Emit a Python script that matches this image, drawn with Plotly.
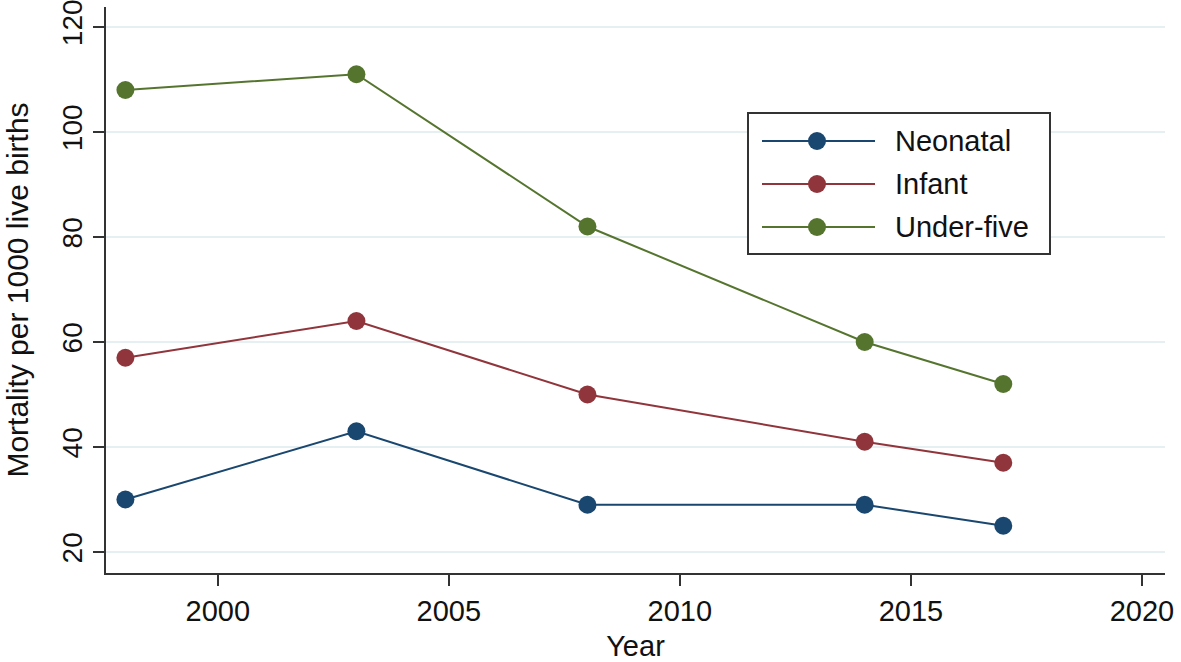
import plotly.graph_objects as go

years = [1998, 2003, 2008, 2014, 2017]
neonatal = [30, 43, 29, 29, 25]
infant = [57, 64, 50, 41, 37]
under_five = [108, 111, 82, 60, 52]

series_names = ["Neonatal", "Infant", "Under-five"]
series_values = [neonatal, infant, under_five]
series_colors = ["#1a476f", "#90353b", "#55752f"]

x_ticks = [2000, 2005, 2010, 2015, 2020]
y_ticks = [20, 40, 60, 80, 100, 120]

W, H = 1181, 662
L, R, T, B = 106, 16, 7, 89
pw, ph = W - L - R, H - T - B

def px(x):
    return (x - L) / pw

def py(y):
    return (H - B - y) / ph

FONT = "Liberation Sans, Arial, sans-serif"
FS = 29

fig = go.Figure()
for name, vals, col in zip(series_names, series_values, series_colors):
    fig.add_trace(go.Scatter(
        x=years, y=vals, mode="lines+markers", name=name,
        line=dict(color=col, width=2),
        marker=dict(color=col, size=18),
        showlegend=False,
    ))

shapes = []
annotations = []
# legend box
shapes.append(dict(type="rect", xref="paper", yref="paper",
                   x0=px(748), x1=px(1050), y0=py(254), y1=py(113),
                   line=dict(color="#333333", width=2), fillcolor="white", layer="above"))
rows = [141, 184, 227]
for name, col, ry in zip(series_names, series_colors, rows):
    shapes.append(dict(type="line", xref="paper", yref="paper",
                       x0=px(762), x1=px(875), y0=py(ry), y1=py(ry),
                       line=dict(color=col, width=2), layer="above"))
    shapes.append(dict(type="circle", xref="paper", yref="paper",
                       xsizemode="pixel", ysizemode="pixel",
                       xanchor=px(817), yanchor=py(ry),
                       x0=-9, x1=9, y0=-9, y1=9,
                       line=dict(color=col, width=0), fillcolor=col, layer="above"))
    annotations.append(dict(xref="paper", yref="paper", x=px(893), y=py(ry),
                            text=name, showarrow=False, xanchor="left", yanchor="middle",
                            font=dict(family=FONT, size=FS, color="#111111")))

fig.update_layout(
    width=W, height=H,
    margin=dict(l=L, r=R, t=T, b=B, autoexpand=False),
    plot_bgcolor="white", paper_bgcolor="white",
    font=dict(family=FONT, size=FS, color="#111111"),
    shapes=shapes, annotations=annotations,
    xaxis=dict(
        range=[1997.58, 2020.5], tickvals=x_ticks, ticks="outside", ticklen=11,
        tickwidth=2, tickcolor="#333333", ticklabeloverflow="allow",
        showline=True, linecolor="#333333", linewidth=2, showgrid=False, zeroline=False,
        title=dict(text="Year", font=dict(size=FS), standoff=15),
        tickfont=dict(size=FS), automargin=False,
    ),
    yaxis=dict(
        range=[16.0, 123.81], tickvals=y_ticks, ticks="outside", ticklen=11,
        tickwidth=2, tickcolor="#333333", tickangle=-90, ticklabeloverflow="allow",
        showline=True, linecolor="#333333", linewidth=2,
        showgrid=True, gridcolor="#e6eff2", gridwidth=2, zeroline=False,
        title=dict(text="Mortality per 1000 live births", font=dict(size=30), standoff=19),
        tickfont=dict(size=28), automargin=False,
    ),
)

fig.write_html("out.html", config={"displayModeBar": False},
               post_script="document.body.style.margin='0';")
